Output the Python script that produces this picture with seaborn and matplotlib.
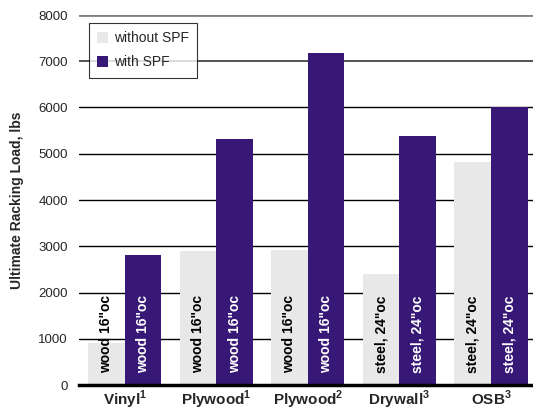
import numpy as np
import pandas as pd
import matplotlib
matplotlib.use('Agg')
import matplotlib.pyplot as plt
import seaborn as sns

# Данные
materials = ['Vinyl$^{\\mathbf{1}}$', 'Plywood$^{\\mathbf{1}}$', 'Plywood$^{\\mathbf{2}}$',
             'Drywall$^{\\mathbf{3}}$', 'OSB$^{\\mathbf{3}}$']
conditions = ['without SPF', 'with SPF']
load_without = [900, 2900, 2910, 2400, 4820]
load_with = [2800, 5320, 7180, 5380, 6000]
frame_labels = ['wood 16"oc', 'wood 16"oc', 'wood 16"oc', 'steel, 24"oc', 'steel, 24"oc']
y_ticks = [0, 1000, 2000, 3000, 4000, 5000, 6000, 7000, 8000]

gray = '#e8e8e8'
purple = '#371877'

df = pd.DataFrame({
    'material': materials * 2,
    'load': load_without + load_with,
    'cond': [conditions[0]] * len(materials) + [conditions[1]] * len(materials),
})

sns.set_style('white')
plt.rcParams['font.family'] = ['Liberation Sans', 'DejaVu Sans']
plt.rcParams['mathtext.fontset'] = 'custom'
plt.rcParams['mathtext.bf'] = 'Liberation Sans:bold'
plt.rcParams['mathtext.rm'] = 'Liberation Sans'

fig = plt.figure(figsize=(5.33, 4.11), dpi=100)
ax = fig.add_axes([79 / 533, 26 / 411, 454 / 533, 370 / 411])

sns.barplot(data=df, x='material', y='load', hue='cond', hue_order=conditions,
            palette=[gray, purple], width=0.8, saturation=1, ax=ax, errorbar=None,
            linewidth=0)

# Подписи на столбцах
for j, cont in enumerate(ax.containers):
    color = 'black' if j == 0 else 'white'
    for bar, lab in zip(cont, frame_labels):
        ax.text(bar.get_x() + bar.get_width() / 2, 250, lab, rotation=90,
                ha='center', va='bottom', fontsize=10, fontweight='bold', color=color)

ax.set_ylim(0, 8000)
ax.set_xlim(-0.5, 4.46)
ax.set_yticks(y_ticks)
ax.set_yticklabels([str(t) for t in y_ticks], fontsize=9.5)
ax.set_xticks(range(len(materials)))
ax.set_xticklabels(materials, fontsize=11, fontweight='bold')
ax.tick_params(axis='y', length=0, pad=8)
ax.tick_params(axis='x', length=0, pad=3)
ax.set_xlabel('')
ax.set_ylabel('Ultimate Racking Load, lbs', fontsize=10, fontweight='bold', labelpad=10)

ax.set_axisbelow(True)
ax.grid(axis='y', color='black', linewidth=1)
gl = ax.yaxis.get_gridlines()
gl[-1].set_color('#808080')
gl[-1].set_linewidth(2)
gl[-2].set_color('#444444')
gl[-2].set_linewidth(1.3)

for s in ['top', 'right', 'left']:
    ax.spines[s].set_visible(False)
ax.spines['bottom'].set_color('black')
ax.spines['bottom'].set_linewidth(2.5)

leg = ax.legend(loc='upper left', bbox_to_anchor=(0.022, 0.978), borderaxespad=0,
                fontsize=10, frameon=True, fancybox=False, handlelength=0.8,
                handleheight=0.8, handletextpad=0.4, labelspacing=0.7,
                borderpad=0.6)
leg.get_frame().set_edgecolor('black')
leg.get_frame().set_linewidth(0.8)

fig.savefig('out.png', dpi=100)
